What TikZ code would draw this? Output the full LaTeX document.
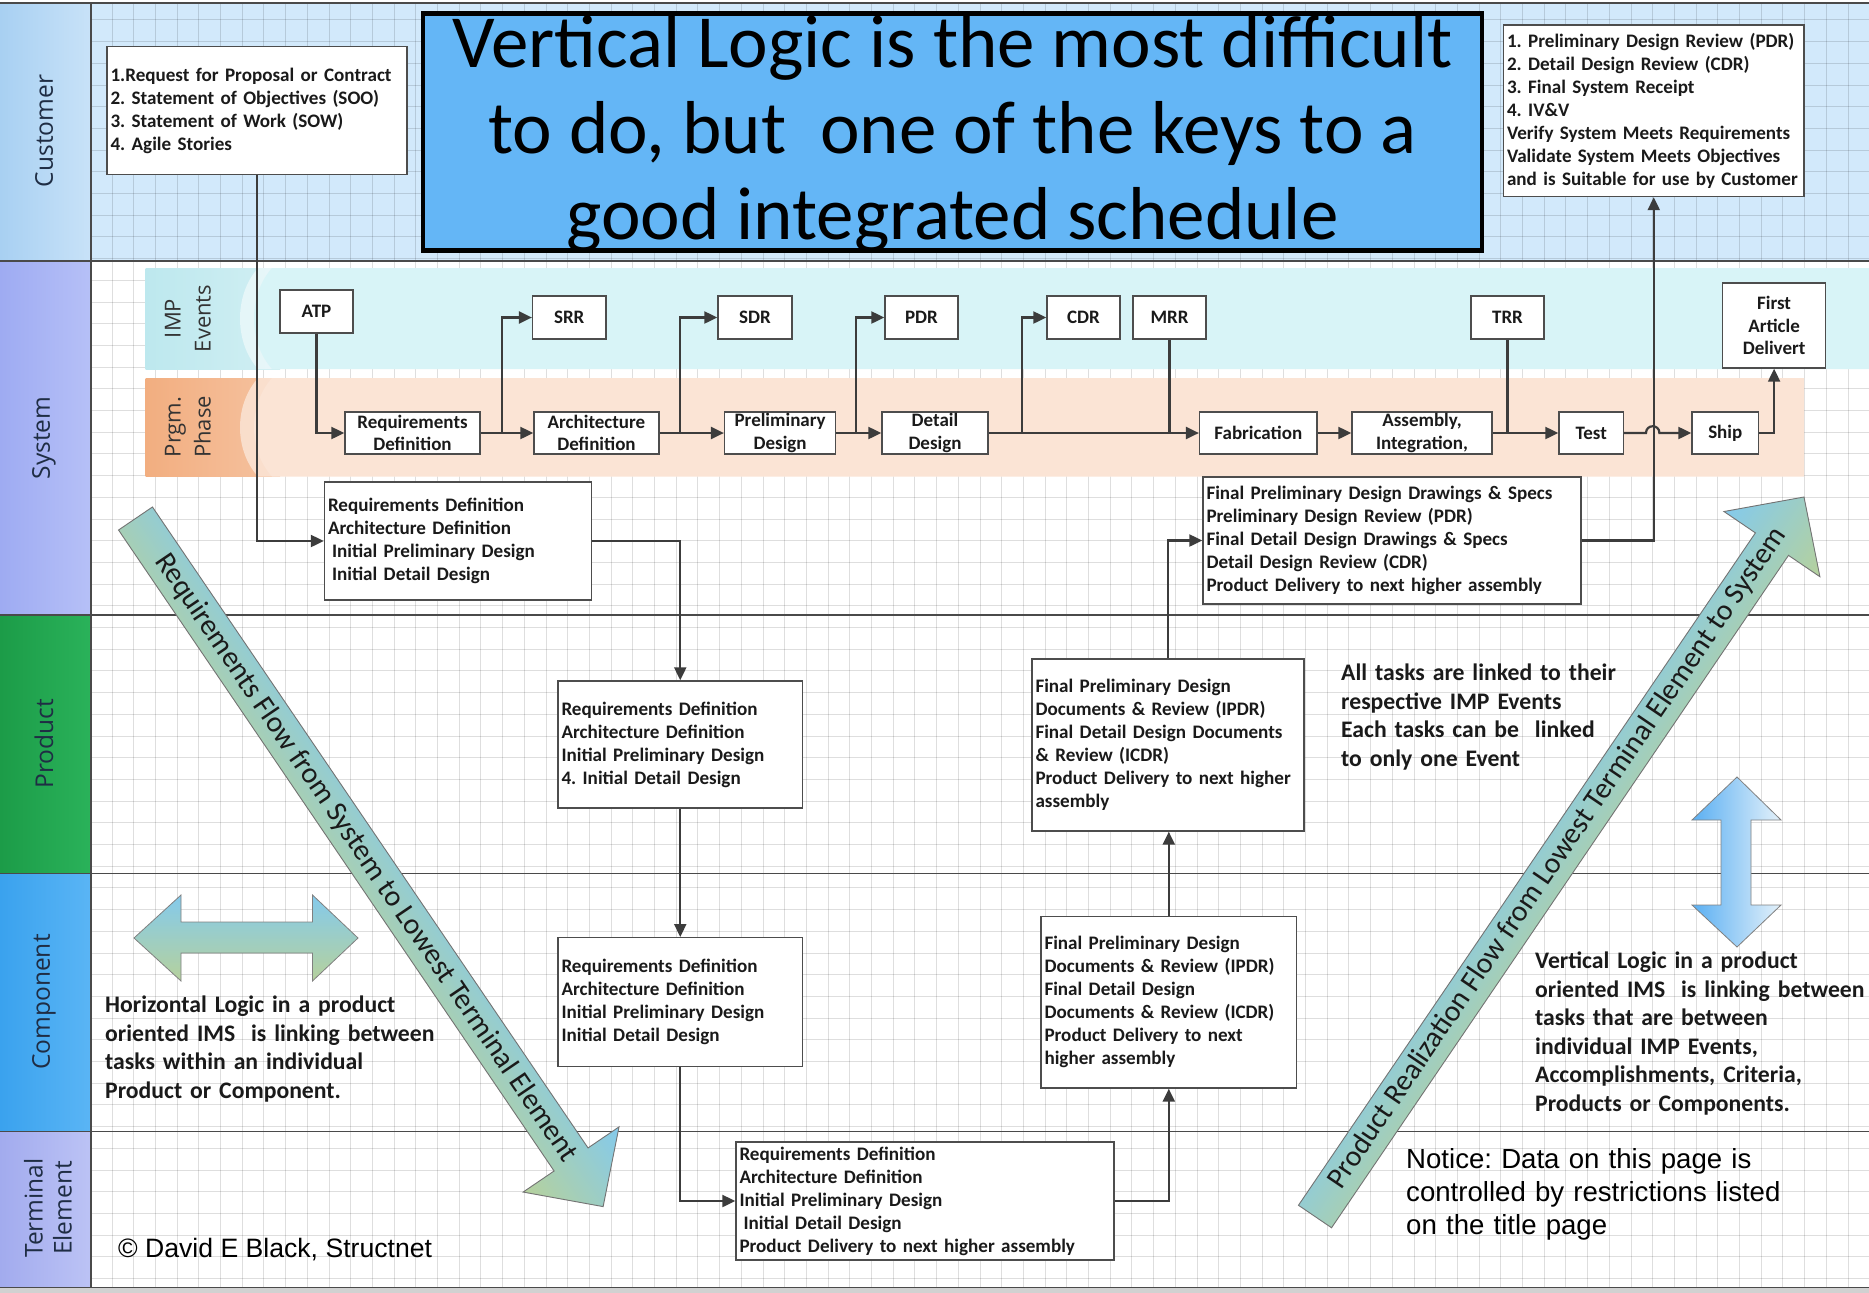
\documentclass[tikz,border=0pt]{standalone}
\usepackage{fontspec}
\setmainfont{Carlito}
\newfontfamily\arialf{Liberation Sans}
\newfontfamily\segoef{Open Sans}
\usetikzlibrary{arrows.meta}
\frenchspacing
\hyphenpenalty=10000
\exhyphenpenalty=10000
\definecolor{custbg}{HTML}{D2E9FB}
\definecolor{laneline}{HTML}{4A4A4A}
\definecolor{ccustA}{HTML}{A8D0F2}
\definecolor{ccustB}{HTML}{C8E2F8}
\definecolor{csysA}{HTML}{9EABF2}
\definecolor{csysB}{HTML}{B6C0F7}
\definecolor{cprodA}{HTML}{1C9C48}
\definecolor{cprodB}{HTML}{2AB25A}
\definecolor{ccompA}{HTML}{3AA2EE}
\definecolor{ccompB}{HTML}{5AB5F5}
\definecolor{ctermA}{HTML}{A2ABEE}
\definecolor{ctermB}{HTML}{BCC3F5}
\definecolor{lbltext}{HTML}{1F2D44}
\definecolor{impdark}{HTML}{BDE8EE}
\definecolor{implight}{HTML}{D8F4F7}
\definecolor{prgdark}{HTML}{F2AE80}
\definecolor{prglight}{HTML}{FBE4D5}
\definecolor{titlefill}{HTML}{64B6F6}
\definecolor{cline}{HTML}{3C3C3C}
\definecolor{bline}{HTML}{4D4D4D}
\definecolor{arrblue}{HTML}{84CAEC}
\definecolor{arrgreen}{HTML}{B6D19C}
\definecolor{vblue}{HTML}{5AAFF2}
\definecolor{vlight}{HTML}{E4F1FA}
\definecolor{txt}{HTML}{1A1A1A}
\tikzset{
  gridl/.style={draw=black, opacity=0.13, line width=0.9pt},
  lanel/.style={draw=laneline, line width=1.8pt},
  conn/.style={draw=cline, line width=2.2pt},
  arr/.style={conn, -{Triangle[length=13pt,width=12pt]}},
  tbox/.style={draw=bline, line width=1.4pt, fill=white, inner xsep=3.5pt, inner ysep=0pt,
    align=left, text=txt, font=\bfseries\fontsize{19.1}{23}\selectfont},
  ebox/.style={draw=bline, line width=1.4pt, fill=white, inner sep=0pt,
    align=center, text=txt, font=\bfseries\fontsize{19}{22.5}\selectfont},
  lanelbl/.style={rotate=90, font=\segoef\fontsize{24.5}{29}\selectfont, text=lbltext, align=center},
  bandlbl/.style={rotate=90, font=\segoef\fontsize{22}{30}\selectfont, text=black!80, align=center},
  blk/.style={inner sep=0pt, align=left, anchor=west, text=txt, font=\bfseries\fontsize{23.7}{28.5}\selectfont},
  bigarr/.style={draw=black!55, line width=0.9pt, top color=arrblue, bottom color=arrgreen},
  flowtxt/.style={font=\fontsize{29.6}{30}\selectfont, text=txt},
}
\newcommand\txbox[6]{%
  \pgfmathsetmacro\bw{#4-(#2)}%
  \pgfmathsetmacro\bh{#5-(#3)}%
  \pgfmathsetmacro\bcx{(#2+#4)/2}%
  \pgfmathsetmacro\bcy{(#3+#5)/2}%
  \pgfmathsetmacro\btw{\bw-7}%
  \node[tbox, minimum width=\bw pt, minimum height=\bh pt, text width=\btw pt] (#1) at (\bcx,\bcy) {#6};}
\newcommand\evbox[6]{%
  \pgfmathsetmacro\bw{#4-(#2)}%
  \pgfmathsetmacro\bh{#5-(#3)}%
  \pgfmathsetmacro\bcx{(#2+#4)/2}%
  \pgfmathsetmacro\bcy{(#3+#5)/2}%
  \node[ebox, minimum width=\bw pt, minimum height=\bh pt] (#1) at (\bcx,\bcy) {#6};}
\begin{document}
\begin{tikzpicture}[x=1pt,y=-1pt]
\useasboundingbox (0,0) rectangle (1869,1293);
\fill[white] (0,0) rectangle (1869,1293);
\fill[custbg] (91,3.5) rectangle (1869,261);
% grid
\foreach \i in {1,...,81} \draw[gridl] ({90.3+21.7*\i},3.5) -- ({90.3+21.7*\i},1287);
\foreach \j in {1,...,59} \draw[gridl] (91,{-1.8+21.7*\j}) -- (1869,{-1.8+21.7*\j});
% label column
\shade[left color=ccustA, right color=ccustB] (0,3.5) rectangle (91,261);
\shade[left color=csysA, right color=csysB] (0,261) rectangle (91,615);
\shade[left color=cprodA, right color=cprodB] (0,615) rectangle (91,873.5);
\shade[left color=ccompA, right color=ccompB] (0,873.5) rectangle (91,1131.5);
\shade[left color=ctermA, right color=ctermB] (0,1131.5) rectangle (91,1287.5);
% lane lines
\draw[lanel] (0,3) -- (1869,3);
\foreach \yy in {261,615,873.5,1131.5} \draw[lanel] (0,\yy) -- (1869,\yy);
\draw[lanel] (91,3) -- (91,1287.5);
\fill[black!18] (0,1287.5) rectangle (1869,1293);
\draw[lanel] (0,1287.5) -- (1869,1287.5);
% lane labels
\node[lanelbl] (lcust) at (44,131) {Customer};
\node[lanelbl] (lsys) at (44,438) {System};
\node[lanelbl] (lprod) at (44,744) {Product};
\node[lanelbl] (lcomp) at (44,1002) {Component};
\node[lanelbl] (lterm) at (48,1208) {Terminal\\Element};
% bands
\shade[left color=impdark, right color=impdark!70!white] (145.5,268) rectangle (280,369);
\fill[white, opacity=0.5] (258,268) .. controls (234,295) and (234,342) .. (258,369) -- (1869,369) -- (1869,268) -- cycle;
\fill[implight] (272,268) .. controls (248,295) and (248,342) .. (272,369) -- (1869,369) -- (1869,268) -- cycle;
\shade[left color=prgdark, right color=prgdark!75!white] (145.5,378) rectangle (280,476.5);
\fill[white, opacity=0.5] (258,378) .. controls (234,405) and (234,450) .. (258,476.5) -- (1804,476.5) -- (1804,378) -- cycle;
\fill[prglight] (272,378) .. controls (248,405) and (248,450) .. (272,476.5) -- (1804,476.5) -- (1804,378) -- cycle;
\node[bandlbl] (limp) at (188,318.5) {IMP\\Events};
\node[bandlbl] (lprg) at (188,427) {Prgm.\\Phase};
% title
\node[draw=black, line width=4.5pt, fill=titlefill, minimum width=1059pt, minimum height=237pt, inner sep=0pt] (title) at (952.5,132) {};
\node[font=\fontsize{75}{86}\selectfont, align=center, inner sep=0pt, text=black] (titletxt) at (952.5,134) {Vertical Logic is the most difficult\\to do, but~ one of the keys to a\\good integrated schedule};
% big diagonal arrows
\begin{scope}[transform canvas={shift={(135.5,518.5)}, rotate=-55.8}]
\shadedraw[bigarr] (0,-20.5) -- (775,-20.5) -- (775,-58) -- (832,0) -- (775,58) -- (775,20.5) -- (0,20.5) -- cycle;
\end{scope}
\begin{scope}[transform canvas={shift={(1315,1216.5)}, rotate=55.8}]
\shadedraw[bigarr] (0,-20) -- (813,-20) -- (813,-58) -- (870,0) -- (813,58) -- (813,20) -- (0,20) -- cycle;
\end{scope}
\node[flowtxt, rotate=-55.8] (reqflow) at (366,858) {Requirements Flow from System to Lowest Terminal Element};
\node[flowtxt, rotate=55.8] (prodflow) at (1557.5,858) {Product Realization Flow from Lowest Terminal Element to System};
% double arrows
\shadedraw[draw=black!50, line width=0.8pt, top color=arrblue, bottom color=arrgreen]
  (134,938) -- (181,895) -- (181,922) -- (312.5,922) -- (312.5,895) -- (358,938) -- (312.5,981) -- (312.5,953) -- (181,953) -- (181,981) -- cycle;
\shadedraw[draw=black!50, line width=0.8pt, left color=vblue, right color=vlight]
  (1737,777) -- (1781,820) -- (1751,820) -- (1751,905) -- (1781,905) -- (1737,947) -- (1692,905) -- (1721,905) -- (1721,820) -- (1692,820) -- cycle;
% event boxes
\evbox{atp}{280}{290}{353}{333}{ATP}
\evbox{srr}{532.6}{296}{605.8}{339}{SRR}
\evbox{sdr}{718}{296}{792}{339}{SDR}
\evbox{pdr}{885}{296}{958}{339}{PDR}
\evbox{cdr}{1047}{296}{1120}{339}{CDR}
\evbox{mrr}{1133}{296}{1206}{339}{MRR}
\evbox{trr}{1471}{296}{1544}{339}{TRR}
\evbox{fa}{1722.6}{283}{1825.6}{368}{First\\Article\\Delivert}
% phase boxes
\evbox{reqd}{345}{412}{480}{454}{Requirements\\Definition}
\evbox{archd}{534}{412}{659}{454}{Architecture\\Definition}
\evbox{prel}{724.6}{412}{835.7}{454}{Preliminary\\Design}
\evbox{detd}{882}{412}{988}{454}{Detail\\Design}
\evbox{fab}{1199.6}{412}{1317}{454}{Fabrication}
\evbox{assy}{1352}{412}{1492}{454}{Assembly,\\Integration,}
\evbox{test}{1559}{412}{1623.5}{454}{Test}
\evbox{ship}{1692}{412}{1758.5}{454}{Ship}
% task boxes
\txbox{cust1}{107}{46.5}{407}{174.5}{1.Request for Proposal or Contract\\2. Statement of Objectives (SOO)\\3. Statement of Work (SOW)\\4. Agile Stories}
\txbox{cust2}{1503.5}{25}{1804}{196.5}{1. Preliminary Design Review (PDR)\\2. Detail Design Review (CDR)\\3. Final System Receipt\\4. IV\&V\\Verify System Meets Requirements\\Validate System Meets Objectives\\and is Suitable for use by Customer}
\txbox{sys1}{324.5}{482}{591.5}{600}{Requirements Definition\\Architecture Definition\\\hspace*{4pt}Initial Preliminary Design\\\hspace*{4pt}Initial Detail Design}
\txbox{sys2}{1203}{477}{1581}{604}{Final Preliminary Design Drawings \& Specs\\Preliminary Design Review (PDR)\\Final Detail Design Drawings \& Specs\\Detail Design Review (CDR)\\Product Delivery to next higher assembly}
\txbox{prod1}{558}{681}{802.5}{808}{Requirements Definition\\Architecture Definition\\Initial Preliminary Design\\4. Initial Detail Design}
\txbox{prod2}{1032}{659}{1304}{831}{Final Preliminary Design\\Documents \& Review (IPDR)\\Final Detail Design Documents\\\& Review (ICDR)\\Product Delivery to next higher\\assembly}
\txbox{comp1}{558}{937.7}{802.5}{1066.7}{Requirements Definition\\Architecture Definition\\Initial Preliminary Design\\Initial Detail Design}
\txbox{comp2}{1041}{916.7}{1296.6}{1088}{Final Preliminary Design\\Documents \& Review (IPDR)\\Final Detail Design\\Documents \& Review (ICDR)\\Product Delivery to next\\higher assembly}
\txbox{term}{736}{1142}{1114}{1260}{Requirements Definition\\Architecture Definition\\Initial Preliminary Design\\\hspace*{4pt}Initial Detail Design\\Product Delivery to next higher assembly}
% vertical flow connectors
\draw[arr] (cust1.south) |- (sys1.west);
\draw[arr] (sys1.east) -| (prod1.north);
\draw[arr] (prod1.south) -- (comp1.north);
\draw[arr] (comp1.south) |- (term.west);
\draw[arr] (term.east) -| (comp2.south);
\draw[arr] (comp2.north) -- (comp2.north |- prod2.south);
\draw[arr] (prod2.north) |- (sys2.west);
\draw[arr] (sys2.east) -| (cust2.south);
% phase flow
\coordinate (bsrr) at (502,433);
\coordinate (bsdr) at (680,433);
\coordinate (bpdr) at (856,433);
\coordinate (bcdr) at (1022,433);
\coordinate (hopA) at (1646,433);
\coordinate (hopB) at (1659.4,433);
\draw[arr] (atp.south) |- (reqd.west);
\draw[arr] (reqd.east) -- (archd.west);
\draw[arr] (bsrr) |- (srr.west);
\draw[arr] (archd.east) -- (prel.west);
\draw[arr] (bsdr) |- (sdr.west);
\draw[arr] (prel.east) -- (detd.west);
\draw[arr] (bpdr) |- (pdr.west);
\draw[arr] (detd.east) -- (fab.west);
\draw[arr] (bcdr) |- (cdr.west);
\draw[conn] (mrr.south) -- (mrr.south |- fab.west);
\draw[arr] (fab.east) -- (assy.west);
\draw[arr] (assy.east) -- (test.west);
\draw[conn] (trr.south) -- (trr.south |- test.west);
\draw[arr] (test.east) -- (hopA) .. controls (1646,424) and (1659.4,424) .. (hopB) -- (ship.west);
\draw[arr] (ship.east) -| (fa.south);
% text blocks
\node[blk, text width=345pt] (hlogic) at (105,1049) {Horizontal Logic in a product\\oriented IMS~ is linking between\\tasks within an individual\\Product or Component.};
\node[blk, text width=330pt] (alltasks) at (1341,717) {All tasks are linked to their\\respective IMP Events\\Each tasks can be~ linked\\to only one Event};
\node[blk, text width=340pt] (vlogic) at (1535,1033.5) {Vertical Logic in a product\\oriented IMS~ is linking between\\tasks that are between\\individual IMP Events,\\Accomplishments, Criteria,\\Products or Components.};
\node[inner sep=0pt, anchor=west, align=left, text width=440pt, text=black, font=\arialf\fontsize{27.6}{33}\selectfont] (notice) at (1406,1194) {Notice: Data on this page is\\controlled by restrictions listed\\on the title page};
\node[inner sep=0pt, anchor=west, text=black, font=\arialf\fontsize{26.6}{30}\selectfont] (copyr) at (118,1250) {© David E Black, Structnet};
\end{tikzpicture}
\end{document}
